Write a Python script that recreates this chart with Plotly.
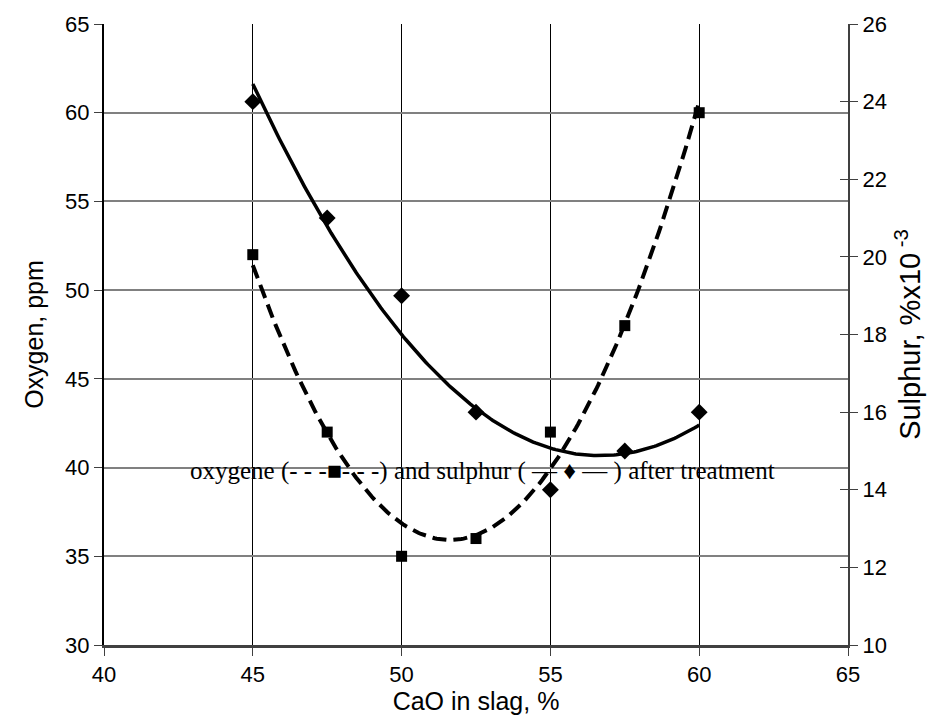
import numpy as np
import plotly.graph_objects as go

# Data
cao = [45, 47.5, 50, 52.5, 55, 57.5, 60]
oxygen = [52, 42, 35, 36, 42, 48, 60]
sulphur = [24, 21, 19, 16, 14, 15, 16]

x_ticks = [40, 45, 50, 55, 60, 65]
legend_text = "oxygene (- - -\u25a0- - -) and sulphur ( \u2014 \u2666 \u2014 ) after treatment"

# Quadratic trend lines (like spreadsheet polynomial trendlines)
xs = np.linspace(min(cao), max(cao), 200)
ox_fit = np.polyval(np.polyfit(cao, oxygen, 2), xs)
su_fit = np.polyval(np.polyfit(cao, sulphur, 2), xs)

fig = go.Figure()
fig.add_trace(go.Scatter(x=xs, y=ox_fit, mode="lines",
                         line=dict(color="black", width=4, dash="14px,7px"),
                         yaxis="y", showlegend=False, hoverinfo="skip"))
fig.add_trace(go.Scatter(x=cao, y=oxygen, mode="markers",
                         marker=dict(symbol="square", size=11, color="black"),
                         yaxis="y", showlegend=False))
fig.add_trace(go.Scatter(x=xs, y=su_fit, mode="lines",
                         line=dict(color="black", width=3.5),
                         yaxis="y2", showlegend=False, hoverinfo="skip"))
fig.add_trace(go.Scatter(x=cao, y=sulphur, mode="markers",
                         marker=dict(symbol="diamond", size=13, color="black"),
                         yaxis="y2", showlegend=False))
# invisible trace to carry inside ticks for the right axis (cross ticks)
fig.add_trace(go.Scatter(x=[None], y=[None], yaxis="y3", showlegend=False))

tickfont = dict(family="Liberation Sans, Arial", size=22, color="black")
titlefont = dict(family="Liberation Sans, Arial", size=25, color="black")

fig.update_layout(
    width=947, height=722,
    margin=dict(l=104, r=99, t=24, b=77),
    paper_bgcolor="white", plot_bgcolor="white",
    xaxis=dict(range=[40, 65], tickvals=x_ticks, ticks="outside", ticklen=8,
               tickcolor="#404040", tickwidth=1,
               showgrid=True, gridcolor="black", gridwidth=1,
               showline=True, linecolor="#404040", linewidth=3,
               zeroline=False, tickfont=tickfont,
               title=dict(text="CaO in slag, %", font=titlefont, standoff=4)),
    yaxis=dict(range=[30, 65], dtick=5, ticks="outside", ticklen=8,
               tickcolor="#404040", tickwidth=1,
               showgrid=True, gridcolor="#808080", gridwidth=1.5,
               showline=True, linecolor="black", linewidth=2,
               zeroline=False, tickfont=tickfont,
               title=dict(text="Oxygen, ppm", font=titlefont, standoff=14)),
    yaxis2=dict(range=[10, 26], dtick=2, overlaying="y", side="right",
                ticks="outside", ticklen=8, tickcolor="#404040", tickwidth=1,
                showgrid=False, showline=True, linecolor="#404040", linewidth=2,
                zeroline=False, tickfont=tickfont,
                title=dict(text="Sulphur, %x10<sup> -3</sup>",
                           font=dict(family="Liberation Sans, Arial", size=29, color="black"),
                           standoff=14)),
    yaxis3=dict(range=[10, 26], dtick=2, overlaying="y", side="right",
                ticks="inside", ticklen=8, tickcolor="#404040", tickwidth=1,
                showticklabels=False, showgrid=False, showline=False,
                zeroline=False),
    annotations=[dict(text=legend_text, x=62.6, y=39.8, xref="x", yref="y",
                      xanchor="right", yanchor="middle", showarrow=False,
                      font=dict(family="Liberation Serif, Times New Roman", size=25,
                                color="black"))],
)

fig.write_html("out.html")
